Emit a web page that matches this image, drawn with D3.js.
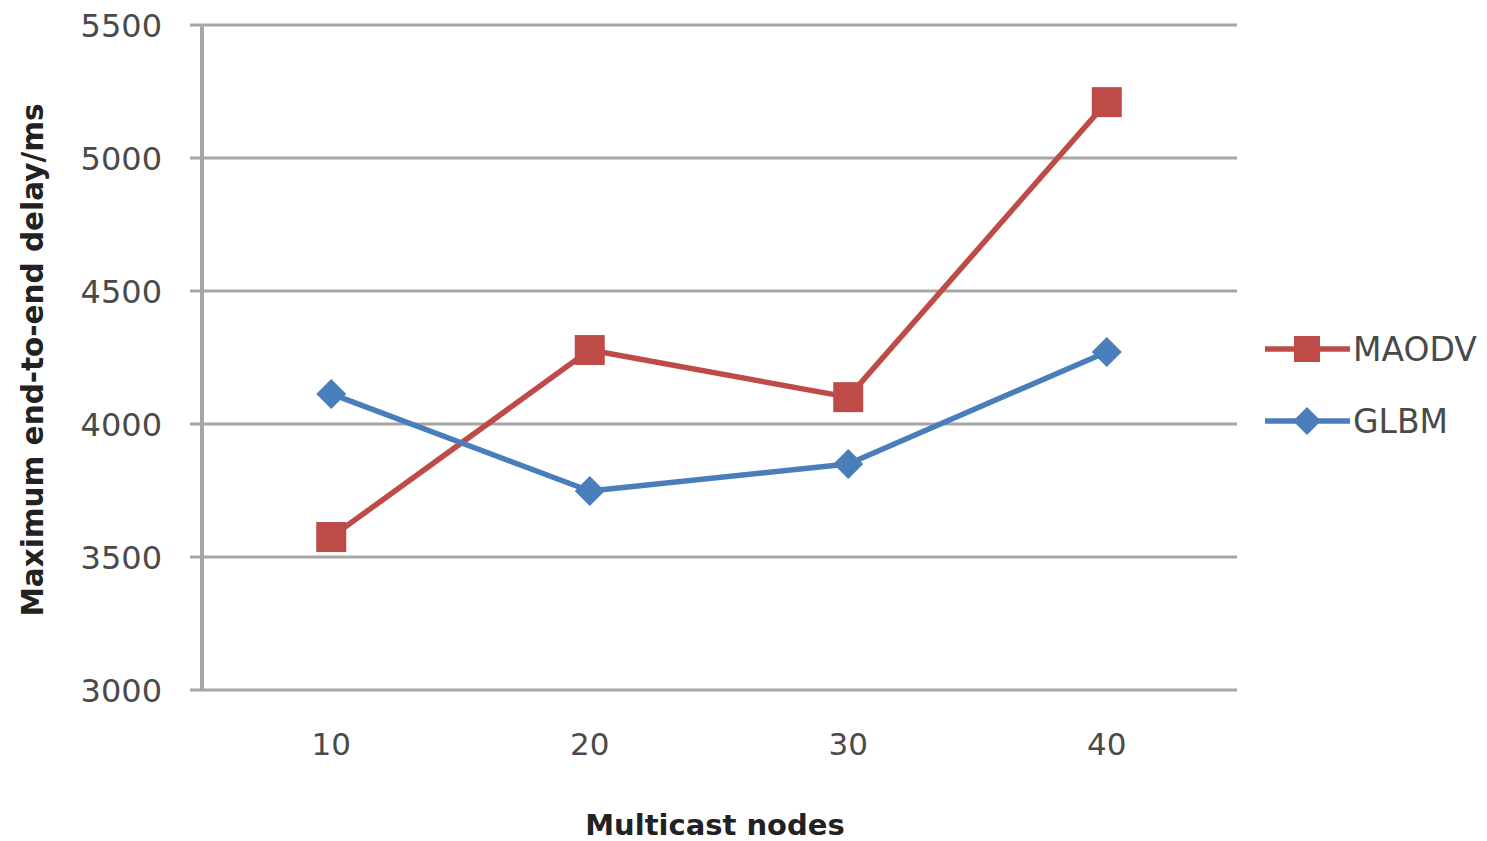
<!DOCTYPE html>
<html><head><meta charset="utf-8">
<script src="https://cdn.jsdelivr.net/npm/d3@7"></script>
<style>body{margin:0;background:#fff}svg{display:block}</style>
</head><body>
<svg id="c" width="1487" height="841"></svg>
<script>
const categories = ["10","20","30","40"];
const maodv = [3575, 4278, 4101, 5210];
const glbm = [4113, 3748, 3850, 4271];
const yTicks = [3000, 3500, 4000, 4500, 5000, 5500];
const seriesNames = ["MAODV","GLBM"];

(function(){
const svg = d3.select("#c");
const pLeft = 202, pRight = 1236, pTop = 25, pBottom = 690;
const x = d3.scaleBand().domain(categories).range([pLeft, pRight]);
const y = d3.scaleLinear().domain([3000, 5500]).range([pBottom, pTop]);
const cx = d => x(d) + x.bandwidth()/2;
const gridColor = "#a6a6a6";
const textColor = "#4a4a4a";
const font = "DejaVu Sans";

svg.append("g").selectAll("line").data(yTicks).join("line")
  .attr("x1", pLeft - 12).attr("x2", pRight + 1)
  .attr("y1", d => y(d)).attr("y2", d => y(d))
  .attr("stroke", gridColor).attr("stroke-width", 3);
svg.append("line").attr("x1", pLeft).attr("x2", pLeft).attr("y1", pTop).attr("y2", pBottom)
  .attr("stroke", gridColor).attr("stroke-width", 4);

svg.append("g").selectAll("text").data(yTicks).join("text")
  .attr("x", 162).attr("y", d => y(d)).attr("dy", "0.36em")
  .attr("text-anchor", "end").attr("font-family", font).attr("font-size", 32)
  .attr("fill", textColor).text(d => d);

svg.append("g").selectAll("text").data(categories).join("text")
  .attr("x", d => cx(d)).attr("y", 755)
  .attr("text-anchor", "middle").attr("font-family", font).attr("font-size", 31)
  .attr("fill", textColor).text(d => d);

svg.append("text").attr("x", 715).attr("y", 835).attr("text-anchor", "middle")
  .attr("font-family", font).attr("font-weight", "bold").attr("font-size", 29)
  .attr("fill", "#222").text("Multicast nodes");
svg.append("text").attr("transform", "translate(43,360) rotate(-90)")
  .attr("text-anchor", "middle")
  .attr("font-family", font).attr("font-weight", "bold").attr("font-size", 29.5)
  .attr("fill", "#222").text("Maximum end-to-end delay/ms");

const red = "#BE4B48", blue = "#4A7EBB";
const line = d3.line().x((d,i) => cx(categories[i])).y(d => y(d));

svg.append("path").datum(maodv).attr("d", line).attr("fill", "none")
  .attr("stroke", red).attr("stroke-width", 5.5).attr("stroke-linejoin", "round");
svg.append("path").datum(glbm).attr("d", line).attr("fill", "none")
  .attr("stroke", blue).attr("stroke-width", 5.5).attr("stroke-linejoin", "round");

const sq = 30;
svg.append("g").selectAll("rect").data(maodv).join("rect")
  .attr("x", (d,i) => cx(categories[i]) - sq/2).attr("y", d => y(d) - sq/2)
  .attr("width", sq).attr("height", sq).attr("fill", red);

const diamond = (px, py, r) => `M${px},${py-r}L${px+r},${py}L${px},${py+r}L${px-r},${py}Z`;
svg.append("g").selectAll("path").data(glbm).join("path")
  .attr("d", (d,i) => diamond(cx(categories[i]), y(d), 15)).attr("fill", blue);

const legend = [{name: seriesNames[0], color: red, y: 349, shape: "sq"},
                {name: seriesNames[1], color: blue, y: 421, shape: "di"}];
const lg = svg.append("g");
legend.forEach(l => {
  lg.append("line").attr("x1", 1265).attr("x2", 1350).attr("y1", l.y).attr("y2", l.y)
    .attr("stroke", l.color).attr("stroke-width", 5.5);
  if (l.shape === "sq") lg.append("rect").attr("x", 1307 - 13).attr("y", l.y - 13)
    .attr("width", 26).attr("height", 26).attr("fill", l.color);
  else lg.append("path").attr("d", diamond(1307, l.y, 14)).attr("fill", l.color);
  lg.append("text").attr("x", 1353).attr("y", l.y).attr("dy", "0.36em")
    .attr("font-family", font).attr("font-size", 33).attr("fill", textColor).text(l.name);
});
})();
</script>
</body></html>
